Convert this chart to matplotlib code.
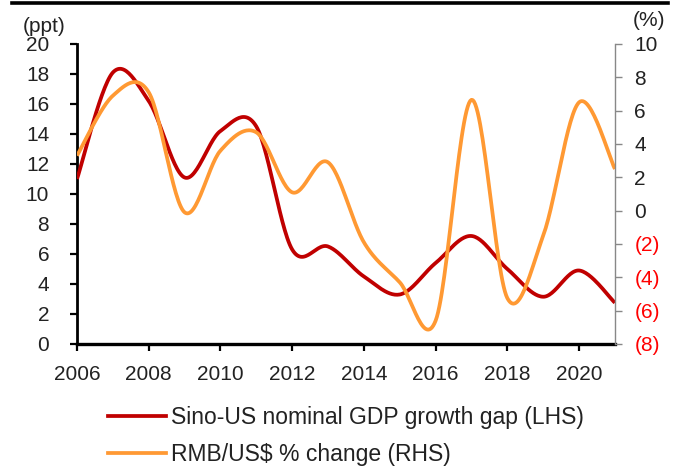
import numpy as np
import matplotlib
matplotlib.use("Agg")
import matplotlib.pyplot as plt
from matplotlib.lines import Line2D
from matplotlib.ticker import FuncFormatter

plt.rcParams['font.family'] = ['Liberation Sans', 'DejaVu Sans']

years = list(range(2006, 2022))
gdp_gap = [11.0, 18.1, 16.2, 11.1, 14.2, 14.5, 6.3, 6.5, 4.5, 3.3, 5.4, 7.2, 5.0, 3.15, 4.9, 2.75]
rmb_chg = [3.3, 6.9, 7.1, -0.1, 3.6, 4.7, 1.1, 2.9, -1.9, -4.3, -6.6, 6.65, -5.25, -1.5, 6.5, 2.5]

label_gap = "Sino-US nominal GDP growth gap (LHS)"
label_rmb = "RMB/US$ % change (RHS)"
left_ticks = list(range(0, 21, 2))
right_ticks = list(range(-8, 11, 2))
x_ticks = list(range(2006, 2021, 2))


def smooth(x, y, n=30):
    # Excel-style smoothed line (Catmull-Rom Bezier segments)
    x = np.asarray(x, float)
    y = np.asarray(y, float)
    px = np.concatenate([[x[0]], x, [x[-1]]])
    py = np.concatenate([[y[0]], y, [y[-1]]])
    xs, ys = [], []
    t = np.linspace(0, 1, n)
    for i in range(1, len(px) - 2):
        p0 = np.array([px[i], py[i]])
        p3 = np.array([px[i + 1], py[i + 1]])
        p1 = p0 + (np.array([px[i + 1], py[i + 1]]) - np.array([px[i - 1], py[i - 1]])) / 6
        p2 = p3 - (np.array([px[i + 2], py[i + 2]]) - np.array([px[i], py[i]])) / 6
        b = ((1 - t) ** 3)[:, None] * p0 + (3 * (1 - t) ** 2 * t)[:, None] * p1 \
            + (3 * (1 - t) * t ** 2)[:, None] * p2 + (t ** 3)[:, None] * p3
        if i > 1:
            b = b[1:]
        xs.extend(b[:, 0])
        ys.extend(b[:, 1])
    return np.array(xs), np.array(ys)


fig = plt.figure(figsize=(6.95, 4.67), dpi=100)
ax = fig.add_axes([0.1108, 0.2634, 0.774, 0.6424])
ax2 = ax.twinx()

red = '#C00000'
orange = '#FF9933'
lw = 2.7

sx, sy = smooth(years, gdp_gap)
ax.plot(sx, sy, color=red, lw=lw, solid_capstyle='butt', zorder=3)
sx2, sy2 = smooth(years, rmb_chg)
ax2.plot(sx2, sy2, color=orange, lw=lw, solid_capstyle='butt', zorder=2)

ax.set_xlim(2006, 2021)
ax.set_ylim(0, 20)
ax2.set_ylim(-8, 10)
ax.set_xticks(x_ticks)
ax.set_yticks(left_ticks)
ax2.set_yticks(right_ticks)

fs = 15
ax.tick_params(axis='both', labelsize=fs, direction='out', length=5, width=1.6, colors='black')
ax.tick_params(axis='y', pad=15)
ax.tick_params(axis='x', pad=10)
ax2.tick_params(axis='y', labelsize=fs, direction='out', length=5, width=1.0, color='#888888', pad=9)

def rfmt(v, pos):
    v = int(round(v))
    return f"({abs(v)})" if v < 0 else f"{v}"

ax2.yaxis.set_major_formatter(FuncFormatter(rfmt))
for lab, v in zip(ax2.get_yticklabels(), right_ticks):
    lab.set_color('#FF0000' if v < 0 else '#222222')
for lab in ax.get_yticklabels() + ax.get_xticklabels():
    lab.set_color('#222222')

for a in (ax, ax2):
    a.spines['top'].set_visible(False)
ax.spines['left'].set_linewidth(2.0)
ax.spines['bottom'].set_linewidth(2.4)
ax.spines['right'].set_visible(False)
ax2.spines['left'].set_visible(False)
ax2.spines['bottom'].set_visible(False)
ax2.spines['right'].set_color('#888888')
ax2.spines['right'].set_linewidth(1.0)

fig.text(23 / 695, 1 - 27 / 467, "(ppt)", fontsize=fs, color='#222222', va='center', ha='left')
fig.text(633 / 695, 1 - 21 / 467, "(%)", fontsize=fs, color='#222222', va='center', ha='left')

# top border bar
fig.add_artist(Line2D([12 / 695, 668 / 695], [1 - 3.3 / 467, 1 - 3.3 / 467],
                      transform=fig.transFigure, color='black', lw=2.6))

handles = [Line2D([], [], color=red, lw=lw), Line2D([], [], color=orange, lw=lw)]
fig.legend(handles, [label_gap, label_rmb], loc='upper left',
           bbox_to_anchor=(108 / 695, 1 - 406 / 467), frameon=False, fontsize=16.5,
           handlelength=2.55, handletextpad=0.22, labelspacing=0.62, borderaxespad=0,
           borderpad=0, labelcolor='#222222')

fig.savefig('out.png', dpi=100)
